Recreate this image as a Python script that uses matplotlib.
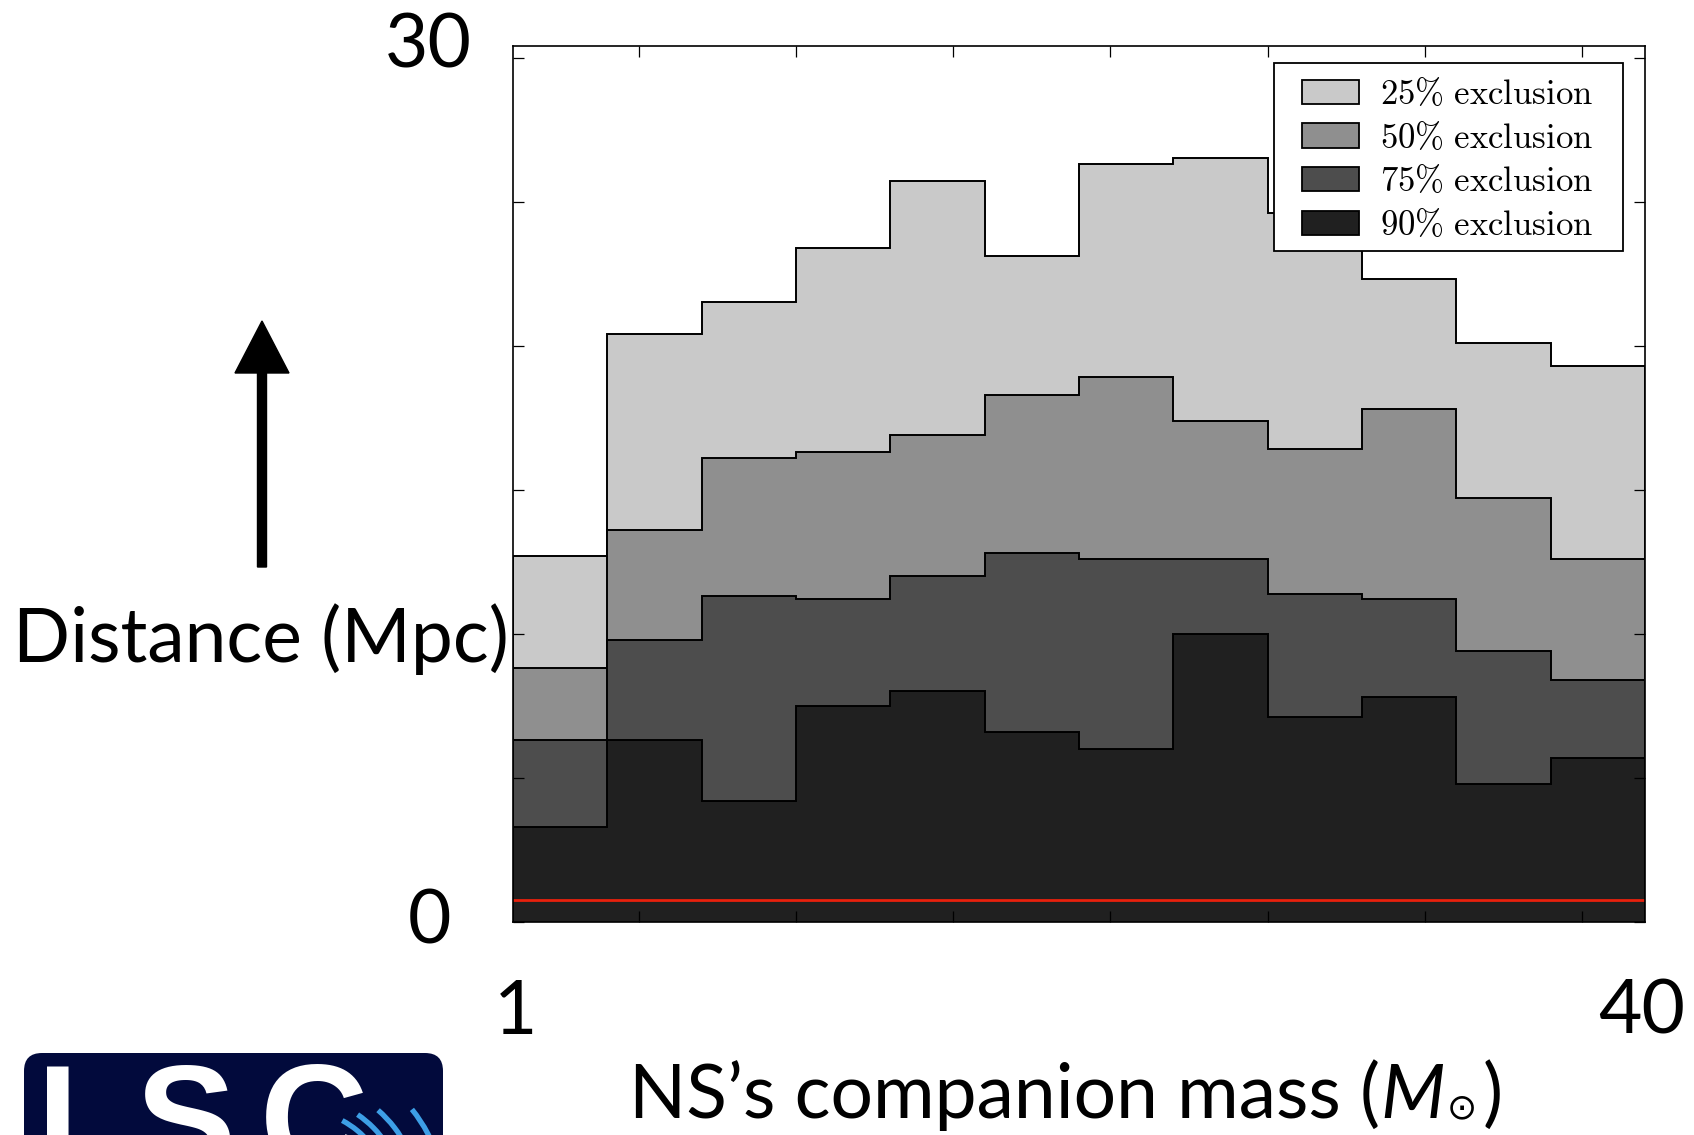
import matplotlib
matplotlib.use("Agg")
import matplotlib.pyplot as plt
import matplotlib.patches as mpatches

# Exclusion distance (Mpc) per companion-mass bin
mass_edges = [1, 4, 7, 10, 13, 16, 19, 22, 25, 28, 31, 34, 37]
excl_25 = [12.7, 20.4, 21.5, 23.4, 25.7, 23.1, 26.3, 26.5, 24.6, 22.3, 20.1, 19.3]
excl_50 = [8.8, 13.6, 16.1, 16.3, 16.9, 18.3, 18.9, 17.4, 16.4, 17.8, 14.7, 12.6]
excl_75 = [6.3, 9.8, 11.3, 11.2, 12.0, 12.8, 12.6, 12.6, 11.4, 11.2, 9.4, 8.4]
excl_90 = [3.3, 6.3, 4.2, 7.5, 8.0, 6.6, 6.0, 10.0, 7.1, 7.8, 4.8, 5.7]
red_level = 0.75

layers = [excl_25, excl_50, excl_75, excl_90]
labels = ["25", "50", "75", "90"]
grays = ["#c9c9c9", "#8f8f8f", "#4d4d4d", "#202020"]

x_ticks = [5, 10, 15, 20, 25, 30, 35]
y_ticks = [0, 5, 10, 15, 20, 25, 30]
y_top = 30.4

plt.rcParams['mathtext.fontset'] = 'cm'

W, H = 1694, 1135
fig = plt.figure(figsize=(W / 100, H / 100), dpi=100)

# main axes, placed in pixels
left, right, top, bottom = 513, 1645, 46, 922
ax = fig.add_axes([left / W, 1 - bottom / H, (right - left) / W, (bottom - top) / H])

for vals, col in zip(layers, grays):
    ax.stairs(vals, mass_edges, baseline=0, fill=True, facecolor=col, linewidth=0)
    ax.stairs(vals, mass_edges, baseline=0, fill=False, color='black', linewidth=1.4)

ax.axhline(red_level, color='#e8200c', linewidth=2)

ax.set_xlim(mass_edges[0], mass_edges[-1])
ax.set_ylim(0, y_top)
ax.set_xticks(x_ticks)
ax.set_yticks(y_ticks)
ax.set_xticklabels([])
ax.set_yticklabels([])
ax.tick_params(direction='in', top=True, right=True, length=8, width=0.9)
for s in ax.spines.values():
    s.set_linewidth(1.2)

# legend: content without frame, box drawn by hand (wider side padding)
handles = [mpatches.Patch(facecolor=c, edgecolor='black', linewidth=1.3) for c in grays]
leg_labels = [r"$%s\%%\ \mathrm{exclusion}$" % l for l in labels]
ax.legend(handles, leg_labels, loc='upper left', bbox_to_anchor=(0.697, 0.9646),
          borderaxespad=0, borderpad=0, fontsize=25, frameon=False,
          handlelength=1.65, handleheight=0.7, handletextpad=0.6,
          labelspacing=0.28)
ax.add_patch(mpatches.Rectangle((0.6723, 0.7660), 0.9806 - 0.6723, 0.9806 - 0.7660,
                                transform=ax.transAxes, facecolor='white',
                                edgecolor='black', linewidth=1.3, zorder=4.9))

# overlay in pixel coordinates for slide annotations
ov = fig.add_axes([0, 0, 1, 1])
ov.set_xlim(0, W)
ov.set_ylim(H, 0)
ov.axis('off')

big = dict(fontsize=54, family=['Lato', 'DejaVu Sans'], color='black')
ov.text(428, 67, "30", ha='center', va='baseline', **big)
ov.text(429, 944, "0", ha='center', va='baseline', **big)
ov.text(516, 1034, "1", ha='center', va='baseline', **big)
ov.text(1642, 1034, "40", ha='center', va='baseline', **big)
ov.text(261, 662, "Distance (Mpc)", ha='center', va='baseline', **big)

# x label assembled from pieces so M is italic and the sun symbol is small
rend = fig.canvas.get_renderer()
pieces = [
    ("NS\u2019s companion mass (", dict(fontsize=54, family='Lato')),
    ("M", dict(fontsize=54, family='Lato', style='italic')),
    ("\u2299", dict(fontsize=26, family='DejaVu Sans')),
    (")", dict(fontsize=54, family='Lato')),
]
gaps = [0, 2, 6]
objs = []
x = 0
for i, (txt, kw) in enumerate(pieces):
    t = ov.text(x, 1118, txt, ha='left', va='baseline', color='black', **kw)
    w = t.get_window_extent(renderer=rend).width
    objs.append((t, x))
    x += w + (gaps[i] if i < len(gaps) else 0)
shift = 1066 - x / 2
for t, x0 in objs:
    t.set_x(x0 + shift)

ov.add_patch(mpatches.FancyArrow(262, 567, 0, -246, width=9, head_width=54,
                                 head_length=52, length_includes_head=True,
                                 color='black'))

# LSC logo, cut by the bottom edge
logo = mpatches.FancyBboxPatch((24, 1053), 419, 130,
                               boxstyle='round,pad=0,rounding_size=18',
                               facecolor='#020a3c', edgecolor='none')
ov.add_patch(logo)
for ch, xl in zip("LSC", [37, 136, 260]):
    ov.text(xl, 1170, ch, ha='left', va='baseline', fontsize=108,
            fontweight='bold', color='white', family='Liberation Sans')
for r, a in zip([90, 103, 119, 144], [53, 47, 40, 30]):
    arc = mpatches.Arc((300, 1200), 2 * r, 2 * r, theta1=-a - 9, theta2=-a + 14,
                       color='#3d9fe6', linewidth=3.8)
    ov.add_patch(arc)
    arc.set_clip_path(logo)

fig.savefig("out.png", dpi=100)
